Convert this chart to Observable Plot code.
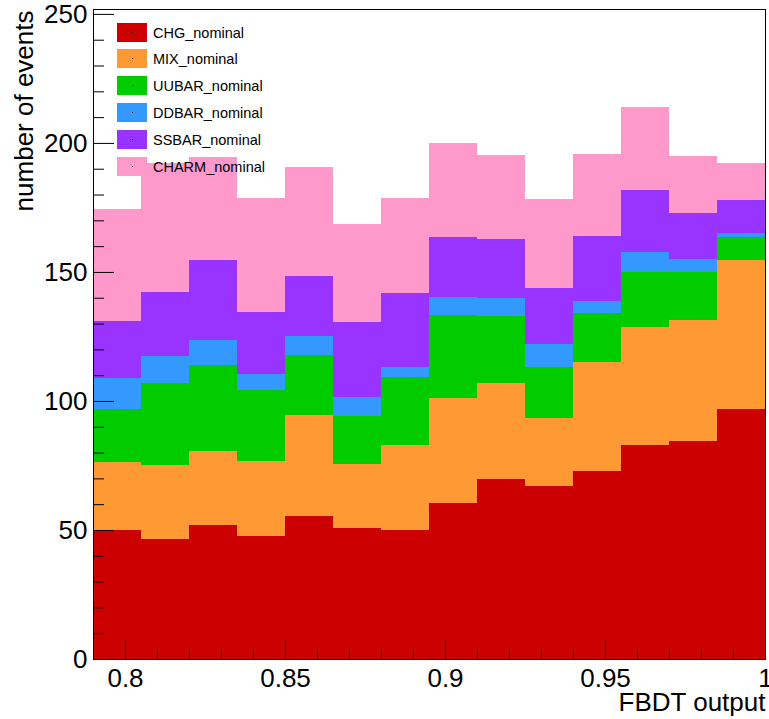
<!DOCTYPE html>
<html>
<head>
<meta charset="utf-8">
<script src="https://cdn.jsdelivr.net/npm/d3@7"></script>
<script src="https://cdn.jsdelivr.net/npm/@observablehq/plot@0.6"></script>
<style>
  body { margin: 0; background: #fff; }
  #wrap { position: relative; width: 769px; height: 719px; font-family: "Liberation Sans", Arial, sans-serif; }
  #legend { position: absolute; left: 117px; top: 22.7px; }
  .row { position: relative; height: 26.8px; }
  .box { position: absolute; left: 0; top: 0; width: 30px; height: 19px; }
  .dot { position: absolute; left: 14.5px; top: 9px; width: 1px; height: 1px; background: #000; }
  .lab { position: absolute; left: 36px; top: 0; font-size: 14.5px; line-height: 21px; color: #000; white-space: nowrap; }
</style>
</head>
<body>
<div id="wrap"><div id="chart"></div><div id="legend"></div></div>
<script>
// ---- data ----
const series = ["CHG_nominal", "MIX_nominal", "UUBAR_nominal", "DDBAR_nominal", "SSBAR_nominal", "CHARM_nominal"];
const colors = ["#cc0000", "#ff9933", "#00cc00", "#3399ff", "#9933ff", "#ff99cc"];
const binLow = [0.79, 0.805, 0.82, 0.835, 0.85, 0.865, 0.88, 0.895, 0.91, 0.925, 0.94, 0.955, 0.97, 0.985];
const binWidth = 0.015;
const chg   = [50.0, 46.5, 51.8, 47.8, 55.4, 50.6, 49.9, 60.3, 69.8, 66.9, 72.7, 82.8, 84.5, 97.0];
const mix   = [26.2, 28.7, 28.9, 28.9, 39.3, 25.0, 32.9, 40.9, 37.1, 26.5, 42.3, 46.0, 46.9, 57.7];
const uubar = [20.5, 31.6, 33.1, 27.7, 23.1, 18.7, 26.6, 32.1, 26.2, 19.7, 19.2, 21.3, 18.7, 8.9];
const ddbar = [12.3, 10.6, 9.8, 6.1, 7.4, 7.4, 3.9, 7.0, 6.8, 8.9, 4.4, 7.7, 4.9, 1.6];
const ssbar = [22.0, 25.0, 30.9, 24.1, 23.2, 28.9, 28.7, 23.3, 22.9, 21.9, 25.4, 24.0, 18.0, 12.7];
const charm = [43.3, 49.8, 39.9, 44.0, 42.4, 37.9, 36.6, 36.3, 32.5, 34.4, 31.7, 32.3, 22.0, 14.2];
const xTicks = [0.8, 0.85, 0.9, 0.95, 1.0];
const xTickLabels = ["0.8", "0.85", "0.9", "0.95", "1"];
const xMinorTicks = [0.79, 0.81, 0.82, 0.83, 0.84, 0.86, 0.87, 0.88, 0.89, 0.91, 0.92, 0.93, 0.94, 0.96, 0.97, 0.98, 0.99];
const yTicks = [0, 50, 100, 150, 200, 250];
const yTickLabels = ["0", "50", "100", "150", "200", "250"];
const yMinorTicks = [10, 20, 30, 40, 60, 70, 80, 90, 110, 120, 130, 140, 160, 170, 180, 190, 210, 220, 230, 240];
const xTitle = "FBDT output";
const yTitle = "number of events";

// ---- build stacked rects ----
const values = [chg, mix, uubar, ddbar, ssbar, charm];
const rows = [];
binLow.forEach((lo, i) => {
  let acc = 0;
  series.forEach((s, k) => {
    const v = values[k][i];
    rows.push({series: s, x1: lo, x2: lo + binWidth, y1: acc, y2: acc + v});
    acc += v;
  });
});

const W = 769, H = 719, mL = 93, mR = 4, mT = 9, mB = 60;
const fw = W - mL - mR, fh = H - mT - mB;

const chart = Plot.plot({
  width: W, height: H,
  marginLeft: mL, marginRight: mR, marginTop: mT, marginBottom: mB,
  style: {fontFamily: "Liberation Sans, Arial, sans-serif", background: "#fff", color: "#000"},
  x: {domain: [0.79, 1.0]},
  y: {domain: [0, 251.9]},
  color: {domain: series, range: colors},
  marks: [
    Plot.rect(rows, {x1: "x1", x2: "x2", y1: "y1", y2: "y2", fill: "series", shapeRendering: "crispEdges"}),
    Plot.tickX(xTicks, {x: d => d, insetTop: fh - 19, stroke: "#000"}),
    Plot.tickX(xMinorTicks, {x: d => d, insetTop: fh - 10, stroke: "#000"}),
    Plot.tickY(yTicks, {y: d => d, insetRight: fw - 21, stroke: "#000"}),
    Plot.tickY(yMinorTicks, {y: d => d, insetRight: fw - 11, stroke: "#000"}),
    Plot.frame({stroke: "#000"}),
    Plot.axisX({ticks: xTicks, tickSize: 0, tickPadding: 9, fontSize: 26, label: null,
      tickFormat: d => xTickLabels[xTicks.indexOf(d)]}),
    Plot.axisY({ticks: yTicks, tickSize: 0, tickPadding: 6, fontSize: 26, label: null,
      tickFormat: d => yTickLabels[yTicks.indexOf(d)]}),
    Plot.text([xTitle], {text: d => d, frameAnchor: "bottom-right", textAnchor: "end", lineAnchor: "bottom", dy: 51, fontSize: 26}),
    Plot.text([yTitle], {text: d => d, frameAnchor: "top-left", rotate: -90, textAnchor: "end", lineAnchor: "bottom", dx: -61, dy: 1, fontSize: 26})
  ]
});
document.getElementById("chart").appendChild(chart);

// ---- legend ----
const leg = document.getElementById("legend");
series.forEach((s, k) => {
  const row = document.createElement("div"); row.className = "row";
  const box = document.createElement("div"); box.className = "box"; box.style.background = colors[k];
  const dot = document.createElement("div"); dot.className = "dot";
  box.appendChild(dot);
  const lab = document.createElement("div"); lab.className = "lab"; lab.textContent = s;
  row.appendChild(box); row.appendChild(lab);
  leg.appendChild(row);
});
</script>
</body>
</html>
